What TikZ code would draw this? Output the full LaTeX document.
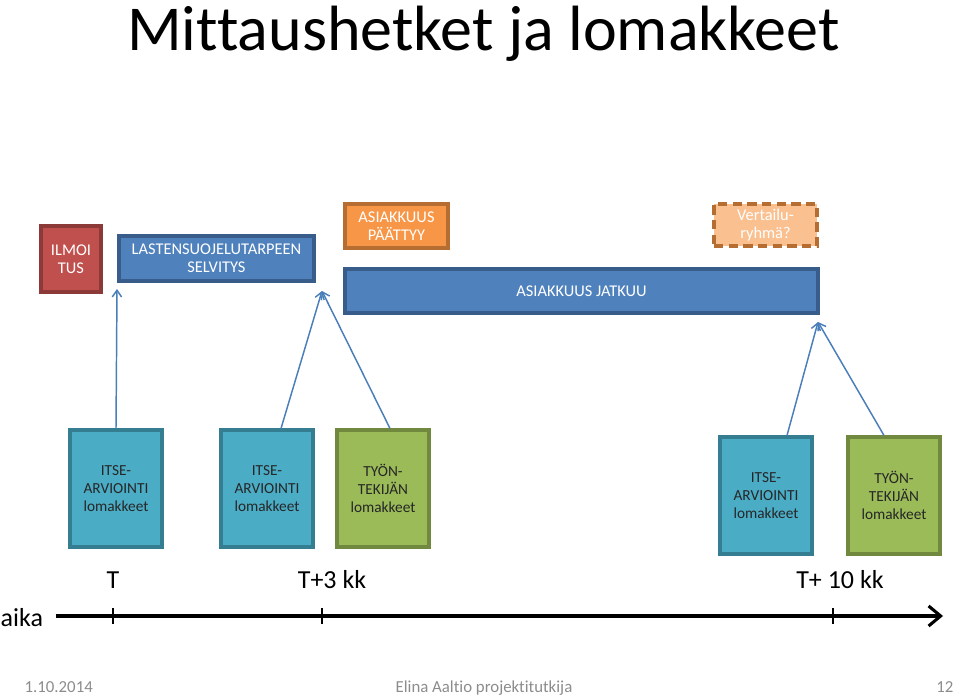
\documentclass[tikz,border=0pt]{standalone}
\usepackage{fontspec}
\setmainfont{Carlito}[Ligatures={NoCommon}]
\usetikzlibrary{arrows.meta,calc}
\definecolor{ilmoifill}{HTML}{C0504D}
\definecolor{ilmoidraw}{HTML}{8C3A37}
\definecolor{bluefill}{HTML}{4F81BD}
\definecolor{bluedraw}{HTML}{385D8A}
\definecolor{orangefill}{HTML}{F79646}
\definecolor{orangedraw}{HTML}{B66D31}
\definecolor{lightorange}{HTML}{FAC090}
\definecolor{itsefill}{HTML}{4BACC6}
\definecolor{itsedraw}{HTML}{357D91}
\definecolor{tyonfill}{HTML}{9BBB59}
\definecolor{tyondraw}{HTML}{71893F}
\definecolor{arrowblue}{HTML}{4A7EBB}
\definecolor{footgray}{HTML}{8C8C8C}
\tikzset{
  box/.style={draw, line width=2.3pt, inner sep=0pt, align=center,
    font=\fontsize{11.5}{13.5}\selectfont},
  topbox/.style={box, text=white, font=\fontsize{12.3}{13.5}\selectfont},
  formbox/.style={box, minimum width=69pt, minimum height=87.75pt, text=black!85},
  itsebox/.style={formbox, fill=itsefill, draw=itsedraw},
  tyonbox/.style={formbox, fill=tyonfill, draw=tyondraw},
  uparrow/.style={draw=arrowblue, line width=1.1pt, -{Straight Barb[length=5pt,width=7pt]}},
  axis/.style={line width=2.3pt, -{Straight Barb[length=9pt,width=15pt]}},
  tick/.style={line width=1.6pt},
  timelabel/.style={anchor=base, font=\fontsize{19.5}{20}\selectfont},
  foot/.style={anchor=base, text=footgray, font=\fontsize{12.6}{14}\selectfont}
}
\begin{document}
\begin{tikzpicture}[x=0.75pt,y=-0.75pt]
	\useasboundingbox (0,0) rectangle (960,696);
	\node[anchor=base, font=\fontsize{48}{48}\selectfont] (title) at (483.5,50) {Mittaushetket ja lomakkeet};
	% ylarivi
	\node[topbox, fill=ilmoifill, draw=ilmoidraw, minimum width=45pt, minimum height=49.5pt] (ilmoitus) at (71,259) {ILMOI\\TUS};
	\node[topbox, fill=bluefill, draw=bluedraw, minimum width=146.25pt, minimum height=33.75pt] (selvitys) at (216.5,258.5) {LASTENSUOJELUTARPEEN\\SELVITYS};
	\node[topbox, fill=orangefill, draw=orangedraw, minimum width=77.25pt, minimum height=33pt] (paattyy) at (396.5,226) {ASIAKKUUS\\PÄÄTTYY};
	\node[topbox, fill=bluefill, draw=bluedraw, minimum width=354.75pt, minimum height=33pt] (jatkuu) at (581.5,291) {ASIAKKUUS JATKUU};
	\node[topbox, fill=lightorange, draw=orangedraw, line width=2.4pt, dash pattern=on 7pt off 4pt, minimum width=77.25pt, minimum height=31.5pt] (vertailu) at (765.5,225) {Vertailu-\\ryhmä?};
	% lomakkeet
	\node[itsebox] (itse1) at (116,488.5) {ITSE-\\ARVIOINTI\\lomakkeet};
	\node[itsebox] (itse2) at (267,488.5) {ITSE-\\ARVIOINTI\\lomakkeet};
	\node[tyonbox] (tyon1) at (383,488.5) {TYÖN-\\TEKIJÄN\\lomakkeet};
	\node[itsebox] (itse3) at (766,495.5) {ITSE-\\ARVIOINTI\\lomakkeet};
	\node[tyonbox] (tyon2) at (894,495.5) {TYÖN-\\TEKIJÄN\\lomakkeet};
	% nuolet
	\coordinate (tip1) at (117,289);
	\coordinate (tip2) at (322,291);
	\coordinate (tip3) at (818,322);
	\draw[uparrow] (itse1.north) -- (tip1);
	\draw[uparrow] ($(itse2.north)+(14,0)$) -- (tip2);
	\draw[uparrow] ($(tyon1.north)+(7,0)$) -- (tip2);
	\draw[uparrow] ($(itse3.north)+(21,0)$) -- (tip3);
	\draw[uparrow] ($(tyon2.north)+(-10,0)$) -- (tip3);
	% aikajana
	\node[anchor=base west, font=\fontsize{19.5}{20}\selectfont] (aika) at (-4,626) {aika};
	\coordinate (axisend) at (943,616);
	\draw[axis] (aika.east |- axisend) ++(8,0) -- (axisend);
	\foreach \x in {113,322,833}{\draw[tick] (\x,608)--(\x,624);}
	\node[timelabel] (t0) at (113,588) {T};
	\node[timelabel] (t3) at (332,588) {T+3 kk};
	\node[timelabel] (t10) at (840,588) {T+ 10 kk};
	% alatunniste
	\node[foot, anchor=base west] (date) at (20,692) {1.10.2014};
	\node[foot] (author) at (484,692) {Elina Aaltio projektitutkija};
	\node[foot, anchor=base east] (page) at (958,692) {12};
\end{tikzpicture}
\end{document}
